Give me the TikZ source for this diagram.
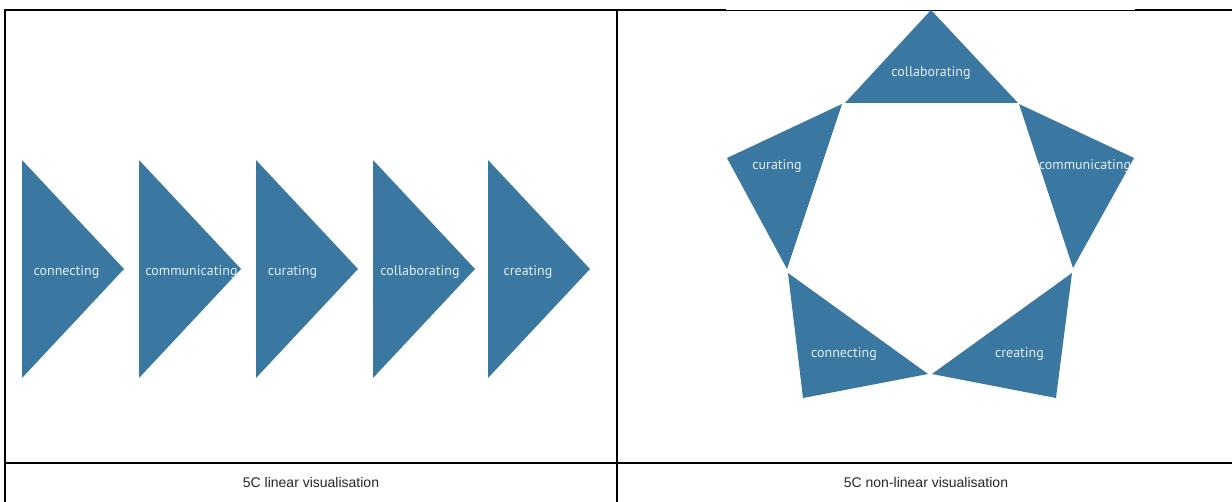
\documentclass[tikz,border=0pt]{standalone}
\usepackage{fontspec}
\setmainfont{Liberation Sans}
\newfontfamily\labelfont{PT Sans}
\definecolor{cblue}{HTML}{3A78A2}
\definecolor{ctext}{HTML}{E4EDF3}

\begin{document}
\begin{tikzpicture}[x=1pt,y=-1pt,
  shapefive/.style={fill=cblue},
  clabel/.style={font=\labelfont\fontsize{14}{14}\selectfont, text=ctext, inner sep=0pt, anchor=base},
  captiontext/.style={font=\fontsize{14}{14}\selectfont, text=black!85, inner sep=0pt, anchor=base},
  heavyrule/.style={line width=2pt, draw=black},
  lightrule/.style={line width=1.6pt, draw=black},
  hairrule/.style={line width=0.8pt, draw=black}]
\useasboundingbox (0,0) rectangle (1232,502);
\fill[white] (0,0) rectangle (1232,502);

% table rules
\coordinate (tl) at (5,10);
\coordinate (gapL) at (726,10);
\coordinate (gapR) at (1135,10);
\coordinate (tr) at (1232,10);
\coordinate (midtop) at (617,10);
\coordinate (midbot) at (617,502);
\coordinate (leftbot) at (5,502);
\coordinate (rowL) at (5,463);
\coordinate (rowR) at (1232,463);
\draw[heavyrule] (tl) -- (gapL);
\draw[hairrule] (gapL) -- (gapR);
\draw[heavyrule] (gapR) -- (tr);
\draw[lightrule] ([yshift=1pt]tl) -- (leftbot);
\draw[lightrule] (midtop) -- (midbot);
\draw[heavyrule] (rowL) -- (rowR);

% linear sequence of arrows
\foreach \L in {22,139,256,373,488}{
  \fill[shapefive] (\L,160) -- (\L+102,269) -- (\L,378) -- cycle;
}
\node[clabel] (lin1) at (66.5,276) {connecting};
\node[clabel] (lin2) at (191.5,276) {communicating};
\node[clabel] (lin3) at (292.5,276) {curating};
\node[clabel] (lin4) at (420,276) {collaborating};
\node[clabel] (lin5) at (528,276) {creating};

% ring of five triangles
\fill[shapefive] (931,10) -- (1018,103) -- (845,103) -- cycle;
\fill[shapefive] (842,104) -- (727,158) -- (787,269) -- cycle;
\fill[shapefive] (1019,104) -- (1134,158) -- (1073,268) -- cycle;
\fill[shapefive] (788,273) -- (928,374) -- (803,398) -- cycle;
\fill[shapefive] (1072,273) -- (932,374) -- (1056,398) -- cycle;
\node[clabel] (ring1) at (931,77) {collaborating};
\node[clabel] (ring2) at (1085,170) {communicating};
\node[clabel] (ring3) at (777,170) {curating};
\node[clabel] (ring4) at (844,358) {connecting};
\node[clabel] (ring5) at (1019.5,358) {creating};

% captions
\node[captiontext] (capL) at (311,487) {5C linear visualisation};
\node[captiontext] (capR) at (926,487) {5C non-linear visualisation};
\end{tikzpicture}
\end{document}
